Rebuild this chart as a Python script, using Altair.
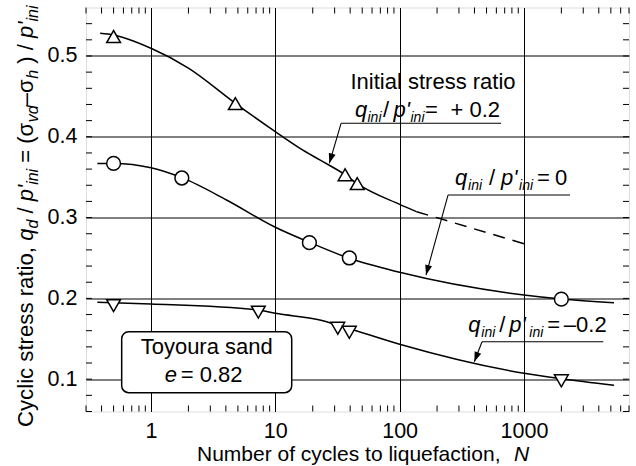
import math
import altair as alt
import pandas as pd

FONT = "Liberation Sans"
W, H = 543, 404
X_DOMAIN = [0.3, 7000]
Y_DOMAIN = [0.06, 0.56]

# ---------------- data ----------------
up_N = [0.5, 4.77, 36.4, 45.6]
up_r = [0.524, 0.441, 0.353, 0.342]
circ_N = [0.5, 1.77, 18.8, 39.4, 2000]
circ_r = [0.367, 0.349, 0.269, 0.250, 0.199]
down_N = [0.5, 7.3, 31.8, 39.4, 2000]
down_r = [0.191, 0.183, 0.163, 0.158, 0.098]

pos_N = [0.39, 0.5, 1.0, 2.0, 4.77, 10, 15.8, 22.8, 36.4, 45.6, 100, 137]
pos_r = [0.528, 0.526, 0.5095, 0.485, 0.4414, 0.4063, 0.3857, 0.3713, 0.353, 0.342, 0.3164, 0.3073]
pos_dash_N = [137, 1080]
pos_dash_r = [0.3073, 0.2661]
zero_N = [0.37, 0.5, 1.0, 1.77, 4.05, 10, 18.8, 39.4, 100, 1000, 2000, 5300]
zero_r = [0.367, 0.367, 0.3617, 0.3494, 0.3218, 0.288, 0.2694, 0.2496, 0.2323, 0.2042, 0.1992, 0.1947]
neg_N = [0.37, 1.0, 7.3, 10, 22.8, 35, 100, 1000, 2000, 5300]
neg_r = [0.1951, 0.193, 0.1856, 0.1815, 0.1733, 0.165, 0.1432, 0.1073, 0.1005, 0.0924]

x_major = [1, 10, 100, 1000]
x_minor = [0.3, 0.4, 0.5, 0.6, 0.7, 0.8, 0.9] + [m * d for d in (1, 10, 100) for m in range(2, 10)] + [2000, 3000, 4000, 5000, 6000, 7000]
y_major = [0.1, 0.2, 0.3, 0.4, 0.5]
y_minor = [round(0.06 + 0.02 * i, 2) for i in range(25)]

# annotation anchors (data coordinates)
box_N = [0.581, 13.55]
box_r = [0.1588, 0.0833]
seg_x1 = [33.8, 33.8, 245, 245, 460, 460]
seg_y1 = [0.4167, 0.4167, 0.3279, 0.3279, 0.1464, 0.1464]
seg_x2 = [654, 27.2, 2348, 163, 4350, 399]
seg_y2 = [0.4167, 0.3672, 0.3279, 0.2289, 0.1464, 0.1216]

XS = alt.Scale(type="log", domain=X_DOMAIN, nice=False)
YS = alt.Scale(type="linear", domain=Y_DOMAIN, nice=False, zero=False)


def px(n):
    return (math.log10(n) - math.log10(X_DOMAIN[0])) / (math.log10(X_DOMAIN[1]) - math.log10(X_DOMAIN[0])) * W


def py(r):
    return (Y_DOMAIN[1] - r) / (Y_DOMAIN[1] - Y_DOMAIN[0]) * H


AW = {' ': 278, "'": 191, '(': 333, ')': 333, '+': 584, ',': 278, '-': 333, '.': 278, '/': 278,
      '=': 584, 'C': 722, 'N': 722, 'I': 278, 'T': 611, 'a': 556, 'b': 556, 'c': 500, 'd': 556,
      'e': 556, 'f': 278, 'h': 556, 'i': 222, 'l': 222, 'm': 833, 'n': 556, 'o': 556, 'p': 556,
      'q': 556, 'r': 333, 's': 500, 't': 278, 'u': 556, 'v': 500, 'y': 500, 'σ': 650, '–': 556}


def tw(s, fs):
    return sum(AW.get(c, 556) for c in s) / 1000 * fs


dummy = pd.DataFrame({"a": [0]})

# ---------------- layers ----------------
curves = pd.concat([
    pd.DataFrame({"N": pos_N, "r": pos_r, "s": "pos"}),
    pd.DataFrame({"N": zero_N, "r": zero_r, "s": "zero"}),
    pd.DataFrame({"N": neg_N, "r": neg_r, "s": "neg"}),
])

xaxis = alt.Axis(values=x_major, format="d", grid=True, gridColor="black", gridWidth=1,
                 ticks=False, domain=False, title=None, labelFontSize=21.5, labelFont=FONT,
                 labelColor="black", labelPadding=9, labelFlush=False, labelOverlap=False)
yaxis = alt.Axis(values=y_major, format=".1f", grid=True, gridColor="black", gridWidth=1,
                 ticks=False, domain=False, title=None, labelFontSize=21.5, labelFont=FONT,
                 labelColor="black", labelPadding=9)

base = alt.Chart(curves).mark_line(interpolate="monotone", color="black", strokeWidth=1.5).encode(
    x=alt.X("N:Q", scale=XS, axis=xaxis),
    y=alt.Y("r:Q", scale=YS, axis=yaxis),
    detail="s:N",
)

dash = alt.Chart(pd.DataFrame({"N": pos_dash_N, "r": pos_dash_r})).mark_line(
    color="black", strokeWidth=1.5, strokeDash=[12, 8]).encode(
    x=alt.X("N:Q", scale=XS, title=None), y=alt.Y("r:Q", scale=YS, title=None))

xt = pd.DataFrame({"N": x_minor})
yt = pd.DataFrame({"r": y_minor})
tick_layers = [
    alt.Chart(xt).mark_rule(color="black", strokeWidth=1).encode(
        x=alt.X("N:Q", scale=XS, title=None), y=alt.value(H), y2=alt.value(H - 6)),
    alt.Chart(xt).mark_rule(color="black", strokeWidth=1).encode(
        x=alt.X("N:Q", scale=XS, title=None), y=alt.value(0), y2=alt.value(6)),
    alt.Chart(yt).mark_rule(color="black", strokeWidth=1).encode(
        y=alt.Y("r:Q", scale=YS, title=None), x=alt.value(0), x2=alt.value(6)),
    alt.Chart(yt).mark_rule(color="black", strokeWidth=1).encode(
        y=alt.Y("r:Q", scale=YS, title=None), x=alt.value(W - 6), x2=alt.value(W)),
]


def pts(N, r, shape):
    return alt.Chart(pd.DataFrame({"N": N, "r": r})).mark_point(
        shape=shape, filled=True, fill="white", stroke="black", strokeWidth=1.5, size=190, opacity=1
    ).encode(x=alt.X("N:Q", scale=XS, title=None), y=alt.Y("r:Q", scale=YS, title=None))


markers = [pts(up_N, up_r, "triangle-up"), pts(circ_N, circ_r, "circle"), pts(down_N, down_r, "triangle-down")]

segs = pd.DataFrame({"x1": seg_x1, "y1": seg_y1, "x2": seg_x2, "y2": seg_y2})
seg_layer = alt.Chart(segs).mark_rule(color="black", strokeWidth=1.1).encode(
    x=alt.X("x1:Q", scale=XS, title=None), y=alt.Y("y1:Q", scale=YS, title=None),
    x2="x2:Q", y2="y2:Q")

# arrowheads at leader tips
heads = []
for a, b, c, d in zip(seg_x1, seg_y1, seg_x2, seg_y2):
    if b == d:
        continue
    ddx = px(c) - px(a)
    ddy = py(d) - py(b)
    ang = math.degrees(math.atan2(ddx, -ddy)) % 360
    heads.append(alt.Chart(dummy).mark_point(
        shape="M0,0L-0.35,1L0.35,1Z", filled=True, color="black", size=400, angle=ang, opacity=1
    ).encode(x=alt.XDatum(c, scale=XS), y=alt.YDatum(d, scale=YS)))

box = alt.Chart(pd.DataFrame({"x1": [box_N[0]], "x2": [box_N[1]], "y1": [box_r[0]], "y2": [box_r[1]]})).mark_rect(
    fill="white", stroke="black", strokeWidth=1.5, cornerRadius=7).encode(
    x=alt.X("x1:Q", scale=XS, title=None), x2="x2:Q",
    y=alt.Y("y1:Q", scale=YS, title=None), y2="y2:Q")


def dtxt(text, N, r, dx=0, dy=0, fs=22, italic=False, align="left"):
    return alt.Chart(dummy).mark_text(
        text=text, dx=dx, dy=dy, fontSize=fs, font=FONT, fontStyle="italic" if italic else "normal",
        align=align, baseline="alphabetic", color="black"
    ).encode(x=alt.XDatum(N, scale=XS), y=alt.YDatum(r, scale=YS))


def ratio_label(N, r, offs, tail_parts):
    # offs: q, ini, /, p', ini
    layers = [
        dtxt("q", N, r, offs[0], 0, 22, True),
        dtxt("ini", N, r, offs[1], 5, 14, True),
        dtxt("/", N, r, offs[2], 0, 22, False),
        dtxt("p'", N, r, offs[3], 0, 22, True),
        dtxt("ini", N, r, offs[4], 5, 14, True),
    ]
    for t, o in tail_parts:
        layers.append(dtxt(t, N, r, o, 0, 22, False))
    return layers


texts = []
texts.append(dtxt("Initial stress ratio", 185.6, 0.4588, 0, 0, 22, False, "center"))
texts += ratio_label(43.75, 0.4249, [0, 12.5, 28, 38.5, 55.5], [("=", 70), ("+ 0.2", 95.5)])
texts += ratio_label(279, 0.3403, [0, 13, 34, 46, 64], [("=", 82), ("0", 100)])
texts += ratio_label(356.9, 0.1588, [0, 13, 31, 41, 61], [("=", 79), ("–0.2", 95.5)])
texts.append(dtxt("Toyoura sand", 2.806, 0.1308, 0, 0, 22, False, "center"))
texts.append(dtxt("e", 2.806, 0.0969, -42, 0, 22, True))
texts.append(dtxt("= 0.82", 2.806, 0.0969, -26, 0, 22, False))

# y-axis title assembled from pieces (rotated)
YT = [("Cyclic stress ratio, ", False, 22.2, 0), ("q", True, 22, 0), ("d", True, 16, 5),
      (" / ", False, 22, 0), ("p'", True, 22, 0), ("ini", True, 16, 5), (" = (", False, 22, 0),
      ("σ", False, 22, 0), ("vd", True, 16, 5), ("–σ", False, 22, 0), ("h", True, 16, 5),
      (" ) / ", False, 22, 0), ("p'", True, 22, 0), ("ini", True, 16, 5)]
ytitle = []
cum = 0.0
for t, it, fs, sh in YT:
    lead = len(t) - len(t.lstrip(" "))
    off = cum + tw(" " * lead, fs)
    ytitle.append(alt.Chart(dummy).mark_text(
        text=t.strip(), angle=270, align="left", baseline="alphabetic", fontSize=fs, font=FONT,
        fontStyle="italic" if it else "normal", color="black"
    ).encode(x=alt.value(-53 + sh), y=alt.value(419.5 - off)))
    cum += tw(t, fs)

xtitle = [
    alt.Chart(dummy).mark_text(text="Number of cycles to liquefaction,", align="left", baseline="alphabetic",
                               fontSize=21, font=FONT, color="black").encode(x=alt.value(111), y=alt.value(453.5)),
    alt.Chart(dummy).mark_text(text="N", align="left", baseline="alphabetic", fontStyle="italic",
                               fontSize=21, font=FONT, color="black").encode(x=alt.value(428), y=alt.value(453.5)),
]

chart = alt.layer(
    base, dash, *tick_layers, seg_layer, *heads, *markers, box, *texts, *ytitle, *xtitle
).properties(
    width=W, height=H,
    autosize=alt.AutoSizeParams(type="none"),
    padding={"left": 86, "top": 7.5, "right": 7, "bottom": 54.5},
).configure_view(stroke="black", strokeWidth=1.6).configure(background="white")

chart.save("out.html", embed_options={"renderer": "svg", "actions": False})
